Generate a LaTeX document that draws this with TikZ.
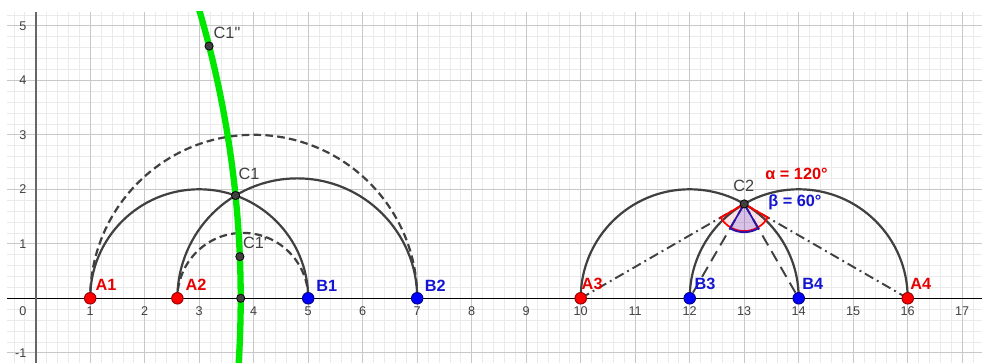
\documentclass[tikz,border=0pt]{standalone}
\usepackage{fontspec}
\newfontfamily\gfont{Liberation Sans}
\definecolor{dgray}{RGB}{64,64,64}
\definecolor{majg}{RGB}{200,200,200}
\definecolor{ming}{RGB}{234,234,234}
\definecolor{ptred}{RGB}{255,0,0}
\definecolor{ptredd}{RGB}{150,0,0}
\definecolor{ptblue}{RGB}{0,0,255}
\definecolor{ptblued}{RGB}{0,0,140}
\definecolor{lgreen}{RGB}{0,232,0}
\definecolor{labred}{RGB}{230,0,0}
\definecolor{labblue}{RGB}{20,20,210}
\definecolor{angblue}{RGB}{40,20,170}
\tikzset{
  arcline/.style={draw=dgray, line width=1.15pt},
  dasharc/.style={draw=dgray, line width=1.15pt, dash pattern=on 4pt off 2.2pt},
  dashdotline/.style={draw=dgray, line width=1pt, dash pattern=on 5pt off 2.2pt on 1pt off 2.2pt},
  dashline/.style={draw=dgray, line width=1pt, dash pattern=on 6pt off 3.5pt},
  redpt/.style={circle, fill=ptred, draw=ptredd, line width=0.5pt, inner sep=0pt, minimum size=6pt},
  bluept/.style={circle, fill=ptblue, draw=ptblued, line width=0.5pt, inner sep=0pt, minimum size=6pt},
  graypt/.style={circle, fill=dgray, draw=black, line width=0.4pt, inner sep=0pt, minimum size=4.3pt},
  alab/.style={font=\gfont\bfseries\fontsize{8.5}{10}\selectfont, text=labred, inner sep=0pt},
  blab/.style={font=\gfont\bfseries\fontsize{8.5}{10}\selectfont, text=labblue, inner sep=0pt},
  clab/.style={font=\gfont\fontsize{8.5}{10}\selectfont, text=dgray, inner sep=0pt},
  tick/.style={font=\gfont\fontsize{6.6}{8}\selectfont, text=dgray, inner sep=0pt},
}
\begin{document}
\begin{tikzpicture}
\useasboundingbox[fill=white] (-0.655,-1.187) rectangle (17.363,5.473);
% grid
\draw[ming, line width=0.35pt, step=0.2] (-0.527,-1.187) grid (17.363,5.262);
\draw[majg, line width=0.55pt, step=1] (-0.527,-1.187) grid (17.363,5.262);
% axes
\draw[black, line width=0.8pt] (-0.527,0) -- (17.363,0);
\draw[dgray!80, line width=0.9pt] (0,-1.187) -- (0,5.262);
% tick labels
\foreach \i in {1,...,17} { \node[tick] (tx\i) at (\i,-0.233) {\i}; }
\node[tick, anchor=east] (tx0) at (-0.165,-0.233) {0};
\foreach \j in {1,...,5} { \node[tick, anchor=east] (ty\j) at (-0.165,\j) {\j}; }
\node[tick, anchor=east] (tym) at (-0.165,-1) {-1};
% points
\coordinate (pA1) at (1,0);
\coordinate (pA2) at (2.6,0);
\coordinate (pB1) at (5,0);
\coordinate (pB2) at (7,0);
\coordinate (pA3) at (10,0);
\coordinate (pB3) at (12,0);
\coordinate (pB4) at (14,0);
\coordinate (pA4) at (16,0);
\coordinate (pC1) at (3.6667,1.8856);
\coordinate (pC1a) at (3.7466,0.765);
\coordinate (pC1b) at (3.1813,4.628);
\coordinate (pC1x) at (3.7617,0);
\coordinate (pC2) at (13,1.7320508);
% left arcs
\draw[arcline] (pB1) arc[start angle=0, end angle=180, radius=2];
\draw[arcline] (pB2) arc[start angle=0, end angle=180, radius=2.2];
\draw[dasharc] (pB2) arc[start angle=0, end angle=180, radius=3];
\draw[dasharc] (pB1) arc[start angle=0, end angle=180, radius=1.2];
% right arcs
\draw[arcline] (pB4) arc[start angle=0, end angle=180, radius=2];
\draw[arcline] (pA4) arc[start angle=0, end angle=180, radius=2];
\draw[dashdotline] (pA3) -- (pC2);
\draw[dashdotline] (pA4) -- (pC2);
\draw[dashline] (pC2) -- (pB3);
\draw[dashline] (pC2) -- (pB4);
% angles
\fill[red, opacity=0.1] (pC2) -- ++(210:0.5) arc[start angle=210, end angle=330, radius=0.5] -- cycle;
\draw[ptred, line width=0.9pt] (pC2) -- ++(210:0.5) arc[start angle=210, end angle=330, radius=0.5] -- cycle;
\fill[blue, opacity=0.15] (pC2) -- ++(240:0.52) arc[start angle=240, end angle=300, radius=0.52] -- cycle;
\draw[angblue, line width=0.9pt] (pC2) -- ++(240:0.52) arc[start angle=240, end angle=300, radius=0.52] -- cycle;
% green locus
\begin{scope}
\clip (-0.527,-1.187) rectangle (17.363,5.262);
\coordinate (gc) at (-15,0);
\draw[lgreen, line width=3.3pt] (gc) ++(-5:18.7617) arc[start angle=-5, end angle=18, radius=18.7617];
\end{scope}
% point markers
\node[redpt] (dA1) at (pA1) {};
\node[redpt] (dA2) at (pA2) {};
\node[bluept] (dB1) at (pB1) {};
\node[bluept] (dB2) at (pB2) {};
\node[redpt] (dA3) at (pA3) {};
\node[bluept] (dB3) at (pB3) {};
\node[bluept] (dB4) at (pB4) {};
\node[redpt] (dA4) at (pA4) {};
\node[graypt] (dC1) at (pC1) {};
\node[graypt] (dC1a) at (pC1a) {};
\node[graypt] (dC1b) at (pC1b) {};
\node[graypt] (dC1x) at (pC1x) {};
\node[graypt] (dC2) at (pC2) {};
% labels
\node[alab] (lA1) at (1.29,0.244) {A1};
\node[alab] (lA2) at (2.94,0.244) {A2};
\node[blab] (lB1) at (5.34,0.22) {B1};
\node[blab] (lB2) at (7.33,0.22) {B2};
\node[alab] (lA3) at (10.21,0.262) {A3};
\node[blab] (lB3) at (12.28,0.262) {B3};
\node[blab] (lB4) at (14.26,0.262) {B4};
\node[alab] (lA4) at (16.24,0.262) {A4};
\node[clab] (lC1) at (3.914,2.29) {C1};
\node[clab] (lC1a) at (4.024,1.015) {C1'};
\node[clab] (lC1b) at (3.51,4.868) {C1"};
\node[clab] (lC2) at (12.99,2.06) {C2};
\node[alab] (lal) at (13.96,2.29) {α = 120°};
\node[blab] (lbe) at (13.93,1.767) {β = 60°};
\end{tikzpicture}
\end{document}
